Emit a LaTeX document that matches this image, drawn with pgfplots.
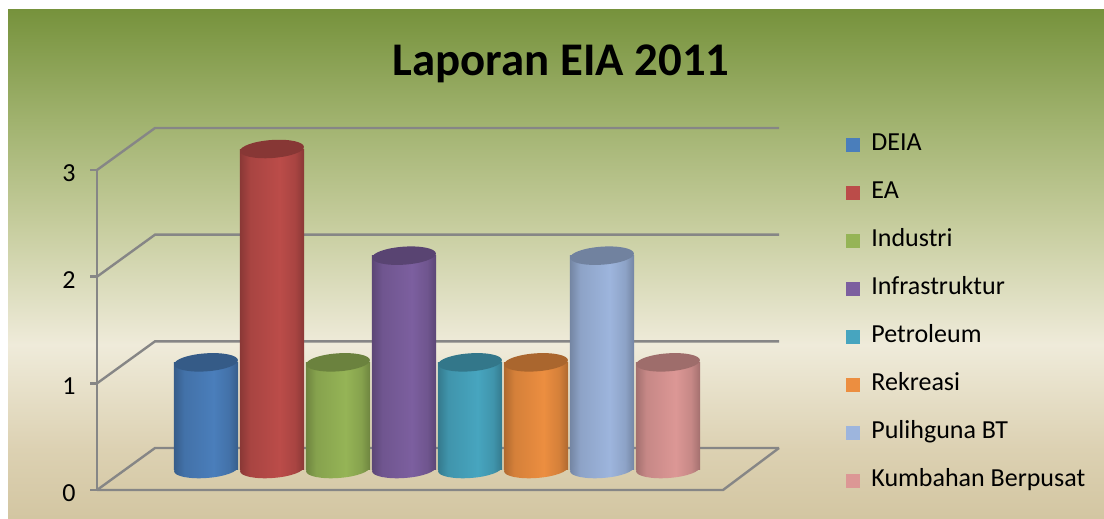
\documentclass[border=0pt]{standalone}
\usepackage{pgfplots}
\pgfplotsset{compat=1.18}
\usepackage{fontspec}
\setmainfont{Carlito}

% background gradient (bottom to top)
\definecolor{bg1}{HTML}{D3C6A2}
\definecolor{bg2}{HTML}{DCD1B2}
\definecolor{bg3}{HTML}{EFEBDA}
\definecolor{bg4}{HTML}{C8CEA0}
\definecolor{bg5}{HTML}{A0B26E}
\definecolor{bg6}{HTML}{76923C}
\definecolor{gridc}{HTML}{868686}
\pgfdeclareverticalshading{bgshade}{100bp}{color(0bp)=(bg1); color(25bp)=(bg1);
  color(31.7bp)=(bg2); color(42bp)=(bg3); color(53.3bp)=(bg4);
  color(64.1bp)=(bg5); color(75bp)=(bg6); color(100bp)=(bg6)}

% one cylinder colour: shading for the body, marks for the bottom and top ellipses
\newcommand\defcyl[2]{%
  \definecolor{c#1}{HTML}{#2}%
  \colorlet{c#1d}{c#1!74!black}%
  \colorlet{c#1m}{c#1!90!black}%
  \colorlet{c#1t}{c#1!72!black}%
  \pgfdeclarehorizontalshading{cyl#1}{100bp}{color(0bp)=(c#1d); color(25bp)=(c#1d);
    color(33bp)=(c#1m); color(56bp)=(c#1); color(68bp)=(c#1m); color(75bp)=(c#1d); color(100bp)=(c#1d)}%
  \pgfdeclareplotmark{bot#1}{%
    \pgfpathellipse{\pgfpointorigin}{\pgfqpoint{15.96pt}{1.12pt}}{\pgfqpoint{-0.31pt}{4.49pt}}%
    \pgfshadepath{cyl#1}{0}\pgfusepath{discard}}%
  \pgfdeclareplotmark{top#1}{%
    \pgfpathellipse{\pgfpointorigin}{\pgfqpoint{15.96pt}{1.12pt}}{\pgfqpoint{-0.31pt}{4.49pt}}%
    \pgfsetfillcolor{c#1t}\pgfusepathqfill}%
}
\defcyl{A}{4A7EBB}
\defcyl{B}{BB4C49}
\defcyl{C}{95B456}
\defcyl{D}{7C5F9F}
\defcyl{E}{47A5BF}
\defcyl{F}{EC8E40}
\defcyl{G}{9DB5DD}
\defcyl{H}{DC9795}

% bottom ellipse, shaded body, top ellipse
\newcommand\cyl[3]{%
  \addplot[only marks, mark=bot#1, forget plot] coordinates {(#2,0)};
  \addplot[ybar, bar width=0.97, bar shift=0pt, draw=none, shade, shading=cyl#1, forget plot] coordinates {(#2,#3)};
  \addplot[only marks, mark=top#1, forget plot] coordinates {(#2,#3)};
}

\begin{document}
\begin{tikzpicture}
\begin{axis}[
  scale only axis, width=552pt, height=259pt,
  xmin=-3.121212, xmax=13.606061, ymin=-0.459375, ymax=4.396875,
  hide axis, clip=false,
  gridl/.style={gridc, line width=1.2pt, forget plot},
  legend image code/.code={\fill[#1] (0pt,-3.5pt) rectangle (7pt,3.5pt);},
  legend cell align=left,
  legend style={at={(0.7663,0.7423)}, anchor=north west, draw=none, fill=none,
    font=\fontsize{13}{15}\selectfont, inner sep=0pt, row sep=12.5pt, column sep=5.5pt,
    nodes={inner sep=0pt, text height=8.5pt, text depth=3pt}},
]
% background
\path[shade, shading=bgshade] (axis cs:-3,-0.459375) rectangle (axis cs:13.606061,4.3125);

% left wall and floor
\addplot[gridl] coordinates {(-1.651515,-0.196875) (-1.651515,2.803125)};
\addplot[gridl] coordinates {(-1.651515,-0.196875) (7.833333,-0.196875) (8.681818,0.196875)};
\addplot[gridl] coordinates {(-1.651515,-0.196875) (-0.772727,0.196875) (8.681818,0.196875)};
\addplot[gridl] coordinates {(-1.651515,0.803125) (-0.772727,1.196875) (8.681818,1.196875)};
\addplot[gridl] coordinates {(-1.651515,1.803125) (-0.772727,2.196875) (8.681818,2.196875)};
\addplot[gridl] coordinates {(-1.651515,2.803125) (-0.772727,3.196875) (8.681818,3.196875)};
% ticks
\addplot[gridl] coordinates {(-1.757576,-0.196875) (-1.651515,-0.196875)};
\addplot[gridl] coordinates {(-1.757576,0.803125) (-1.651515,0.803125)};
\addplot[gridl] coordinates {(-1.757576,1.803125) (-1.651515,1.803125)};
\addplot[gridl] coordinates {(-1.757576,2.803125) (-1.651515,2.803125)};

\begin{scope}[every node/.style={anchor=east, inner sep=0pt, yshift=-1.5pt, font=\fontsize{13}{15}\selectfont}]
\node at (axis cs:-1.969697,-0.196875) {0};
\node at (axis cs:-1.969697,0.803125) {1};
\node at (axis cs:-1.969697,1.803125) {2};
\node at (axis cs:-1.969697,2.803125) {3};
\end{scope}

% data
\cyl{A}{0}{1}
\cyl{B}{1}{3}
\cyl{C}{2}{1}
\cyl{D}{3}{2}
\cyl{E}{4}{1}
\cyl{F}{5}{1}
\cyl{G}{6}{2}
\cyl{H}{7}{1}

\node[anchor=base, font=\fontsize{23.4}{26}\selectfont\bfseries] at (axis cs:5.378788,3.69375) {Laporan EIA 2011};

\addlegendimage{fill=cA, draw=none}
\addlegendimage{fill=cB, draw=none}
\addlegendimage{fill=cC, draw=none}
\addlegendimage{fill=cD, draw=none}
\addlegendimage{fill=cE, draw=none}
\addlegendimage{fill=cF, draw=none}
\addlegendimage{fill=cG, draw=none}
\addlegendimage{fill=cH, draw=none}
\legend{DEIA,EA,Industri,Infrastruktur,Petroleum,Rekreasi,Pulihguna BT,Kumbahan Berpusat}
\end{axis}
\pgfresetboundingbox
\path[use as bounding box] (current axis.south west) rectangle (current axis.north east);
\end{tikzpicture}
\end{document}
